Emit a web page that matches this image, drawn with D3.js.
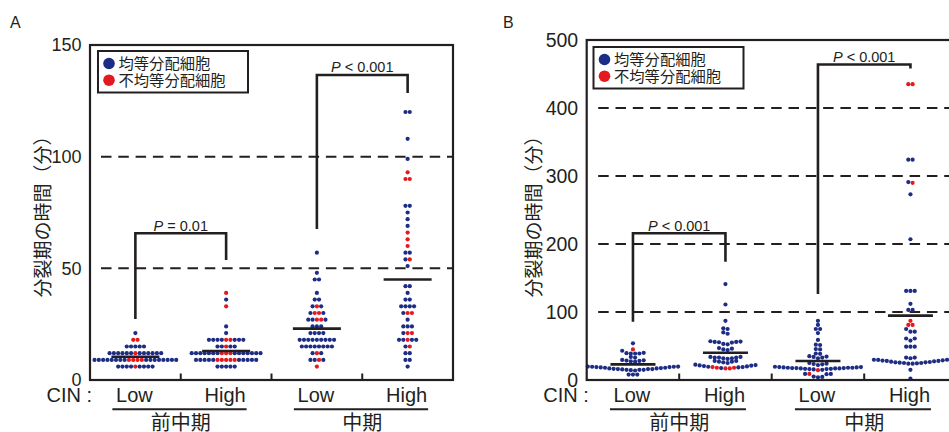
<!DOCTYPE html>
<html><head><meta charset="utf-8">
<script src="https://cdn.jsdelivr.net/npm/d3@7"></script>
<style>body{margin:0;background:#fff} svg{display:block}</style>
</head><body>
<svg id="c" width="949" height="432"></svg>
<script>
// ---------- data ----------
const categories = ["Low", "High", "Low", "High"];
const phases = ["前中期", "中期"];
const legendLabels = ["均等分配細胞", "不均等分配細胞"];
const ticksA = [0, 50, 100, 150];
const ticksB = [0, 100, 200, 300, 400, 500];
const dashedA = [50, 100];
const dashedB = [100, 200, 300, 400];

// Panel A : [minutes, number of cells]
const aBlue = [
  [[21,1],[15,5],[12,12],[9,16],[6,8]],
  [[36,1],[24,1],[21,1],[18,7],[15,4],[12,14],[9,10],[6,5]],
  [[57,1],[48,1],[45,2],[39,1],[36,2],[33,2],[30,2],[27,3],[24,3],[21,4],[18,9],[15,8],[12,2],[9,3]],
  [[120,2],[108,1],[99,1],[78,2],[75,1],[72,1],[69,1],[57,2],[54,1],[51,1],[42,2],[39,1],[36,2],[33,4],[30,1],[27,1],[24,3],[21,1],[18,4],[15,1],[12,2],[9,2],[6,1]]
];
const aRed = [
  [[18,2],[12,1],[9,4],[6,1]],
  [[39,1],[33,1],[18,2],[15,1],[12,3],[9,5]],
  [[33,1],[30,2],[27,2],[12,1],[9,1],[6,1]],
  [[93,1],[90,2],[66,1],[63,1],[60,1],[54,1],[30,2],[21,2],[18,1],[15,1]]
];
const aMeans = [10.4, 13, 23, 45];

// Panel B : minutes per cell
const bBlue = [
  [8,8,8, 14,14.5,15,15,15,15.5,16,16,16,16.5,17,17,17.5,18,18,18.5,19,19,19.5,19.5,19.8,19.8,
   27,27.5,28,28.5,29,29.5, 33,34, 39,39,39,39.5,40, 43, 54],
  [17.5,18.5,19,19.5,20,20.5,21,21.5,22,22.5, 25,26,27,27,28,28, 31,32,32,33,33,33,34,34,
   44,45,46,47, 52.5,53,55,55.5,56,56,56.5,57, 68,70, 75,76, 87, 111, 141],
  [4,4.5,5, 8.5,9,9, 15,15.5,16,16,16.5,16.5,17,17,17,17.5,17.5,17.5,18,18,18,18.5,18.5,19,19,19.5,
   22,23,23.5,24,25, 32,33,34,34.5,35, 38.5,39, 45,45.5, 51.5,52, 59, 69, 75,75, 81, 87],
  [2, 15, 24,24,24.5,25,25,25.5,26,26,26.5,27,27.5,28,28,28.5,29,29.5,29.8,29.8, 32,33,33,
   49,49,49, 58,61,61, 71,71,75, 103,103, 112, 131,131,131, 207, 273, 291, 324,324]
];
const bRed = [
  [45],
  [17,17,18,18,19],
  [14.5, 9],
  [81,81,87, 290, 435,435]
];
const bMeans = [23, 40, 28, 94.6];

// significance brackets (values in minutes)
const aBrackets = [
  {from:0, to:1, top:65.7, left:27.3, right:53.7, label:" = 0.01"},
  {from:2, to:3, top:136.6, left:67.6, right:128.5, label:" < 0.001"}
];
const bBrackets = [
  {from:0, to:1, top:215.7, left:85.8, right:174, label:" < 0.001"},
  {from:2, to:3, top:464, left:126.5, right:458, label:" < 0.001"}
];

// ---------- drawing ----------
const svg = d3.select("#c");
const INK = "#231f20";
const BLUE = "#1d2c84";
const RED = "#e3191f";
const NUM = "'Liberation Sans', Arial, Helvetica, sans-serif";
const CJK = "'Noto Sans CJK JP', 'Noto Sans CJK SC', sans-serif";

function expand(pairs) { const o = []; pairs.forEach(([v, n]) => { for (let i = 0; i < n; i++) o.push(v); }); return o; }

function swarm(points, y, cx, d, thr) {
  const pts = points.slice().sort((a, b) => a.v - b.v || b.t - a.t);
  const out = [];
  let i = 0;
  while (i < pts.length) {
    const y0 = y(pts[i].v);
    let j = i;
    while (j < pts.length && Math.abs(y(pts[j].v) - y0) < thr) j++;
    const n = j - i;
    const ks = d3.range(n).map(k => k - (n - 1) / 2)
      .sort((a, b) => Math.abs(a) - Math.abs(b) || b - a);
    for (let k = 0; k < n; k++) {
      const p = pts[i + k];
      out.push({x: cx + ks[k] * d, y: y(p.v), t: p.t});
    }
    i = j;
  }
  return out;
}

function panel(cfg) {
  const g = svg.append("g");
  const x = d3.scaleBand().domain(d3.range(4)).range([cfg.left, cfg.right]).padding(0);
  const y = d3.scaleLinear().domain([0, cfg.max]).range([380, cfg.top]);
  const cx = i => x(i) + x.bandwidth() / 2;

  // panel letter
  g.append("text").attr("x", cfg.letterX).attr("y", 28).text(cfg.letter)
    .attr("font-family", NUM).attr("font-size", 16).attr("fill", INK);

  // dashed reference lines
  g.selectAll(".dash").data(cfg.dashed).join("line")
    .attr("x1", cfg.left + cfg.dashOff).attr("x2", cfg.right)
    .attr("y1", d => y(d)).attr("y2", d => y(d))
    .attr("stroke", INK).attr("stroke-width", 2).attr("stroke-dasharray", "10.5,6.8");

  // dots
  const dots = [];
  for (let i = 0; i < 4; i++) {
    const pts = cfg.blue[i].map(v => ({v, t: 0})).concat(cfg.red[i].map(v => ({v, t: 1})));
    swarm(pts, y, cx(i), 4.3, 4.0).forEach(p => dots.push(p));
  }
  g.selectAll(".dot").data(dots).join("circle")
    .attr("cx", d => d.x).attr("cy", d => d.y).attr("r", 2.1)
    .attr("fill", d => d.t ? RED : BLUE);

  // mean lines
  g.selectAll(".mean").data(cfg.means).join("line")
    .attr("x1", (d, i) => cx(i) - cfg.meanHalf).attr("x2", (d, i) => cx(i) + cfg.meanHalf)
    .attr("y1", d => y(d)).attr("y2", d => y(d))
    .attr("stroke", INK).attr("stroke-width", 2.6);

  // frame
  g.append("rect").attr("x", cfg.left).attr("y", y(cfg.max))
    .attr("width", cfg.right - cfg.left).attr("height", 380 - y(cfg.max))
    .attr("fill", "none").attr("stroke", INK).attr("stroke-width", 2.2);

  // inner x ticks
  g.selectAll(".xt").data([1, 2, 3]).join("line")
    .attr("x1", d => x(d)).attr("x2", d => x(d)).attr("y1", 380).attr("y2", 373.5)
    .attr("stroke", INK).attr("stroke-width", 2);

  // y tick labels
  g.selectAll(".yl").data(cfg.ticks).join("text")
    .attr("x", cfg.left - 8.5).attr("y", d => y(d)).attr("dy", "0.36em")
    .attr("text-anchor", "end").attr("font-family", NUM).attr("font-size", cfg.tickSize)
    .attr("fill", INK).text(d => d);

  // y title
  g.append("text").attr("transform", `translate(${cfg.titleX},212) rotate(-90)`)
    .attr("text-anchor", "middle").attr("dominant-baseline", "central")
    .attr("font-family", CJK).attr("font-size", 19).attr("fill", INK)
    .text("分裂期の時間（分）");

  // legend
  g.append("rect").attr("x", cfg.legX).attr("y", cfg.legY).attr("width", cfg.legW).attr("height", 41.5)
    .attr("fill", "#fff").attr("stroke", INK).attr("stroke-width", 2);
  legendLabels.forEach((lab, i) => {
    g.append("circle").attr("cx", cfg.legX + 11).attr("cy", cfg.legY + 12.5 + i * 16.7).attr("r", 5.8)
      .attr("fill", i ? RED : BLUE);
    g.append("text").attr("x", cfg.legX + 20.5).attr("y", cfg.legY + 12.5 + i * 16.7 + 5.6)
      .attr("font-family", CJK).attr("font-size", 15.3).attr("fill", INK).text(lab);
  });

  // brackets
  cfg.brackets.forEach(b => {
    const x1 = cx(b.from), x2 = cx(b.to);
    g.append("path")
      .attr("d", d3.line()([[x1, y(b.left)], [x1, y(b.top)], [x2, y(b.top)], [x2, y(b.right)]]))
      .attr("fill", "none").attr("stroke", INK).attr("stroke-width", 2.6);
    const t = g.append("text").attr("x", (x1 + x2) / 2).attr("y", y(b.top) - 2.5)
      .attr("text-anchor", "middle").attr("font-family", NUM).attr("font-size", 14.5).attr("fill", INK);
    t.append("tspan").attr("font-style", "italic").text("P");
    t.append("tspan").text(b.label);
  });

  // category labels
  g.append("text").attr("x", cfg.left - 43.5).attr("y", 402)
    .attr("font-family", NUM).attr("font-size", 20).attr("fill", INK).attr("xml:space", "preserve").text("CIN :");
  g.selectAll(".cat").data(categories).join("text")
    .attr("x", (d, i) => cx(i) - 1).attr("y", 402).attr("text-anchor", "middle")
    .attr("font-family", NUM).attr("font-size", 20).attr("fill", INK).text(d => d);

  // phase groups
  phases.forEach((ph, k) => {
    const a = cx(2 * k), b = cx(2 * k + 1);
    g.append("line").attr("x1", a - 23).attr("x2", b + 20.5).attr("y1", 409.3).attr("y2", 409.3)
      .attr("stroke", INK).attr("stroke-width", 2);
    g.append("text").attr("x", (a + b) / 2).attr("y", 430).attr("text-anchor", "middle")
      .attr("font-family", CJK).attr("font-size", 20).attr("fill", INK).text(ph);
  });
}

panel({
  letter: "A", letterX: 10, left: 90, right: 453, top: 45, max: 150, ticks: ticksA, dashed: dashedA,
  dashOff: 11, tickSize: 18, titleX: 41, legX: 98, legY: 51, legW: 150,
  blue: aBlue.map(expand), red: aRed.map(expand), means: aMeans, meanHalf: 24, brackets: aBrackets
});
panel({
  letter: "B", letterX: 503, left: 586.7, right: 956.7, top: 40, max: 500, ticks: ticksB, dashed: dashedB,
  dashOff: 11.5, tickSize: 19.5, titleX: 532, legX: 593.5, legY: 47, legW: 150,
  blue: bBlue, red: bRed, means: bMeans, meanHalf: 22.5, brackets: bBrackets
});
</script>
</body></html>
